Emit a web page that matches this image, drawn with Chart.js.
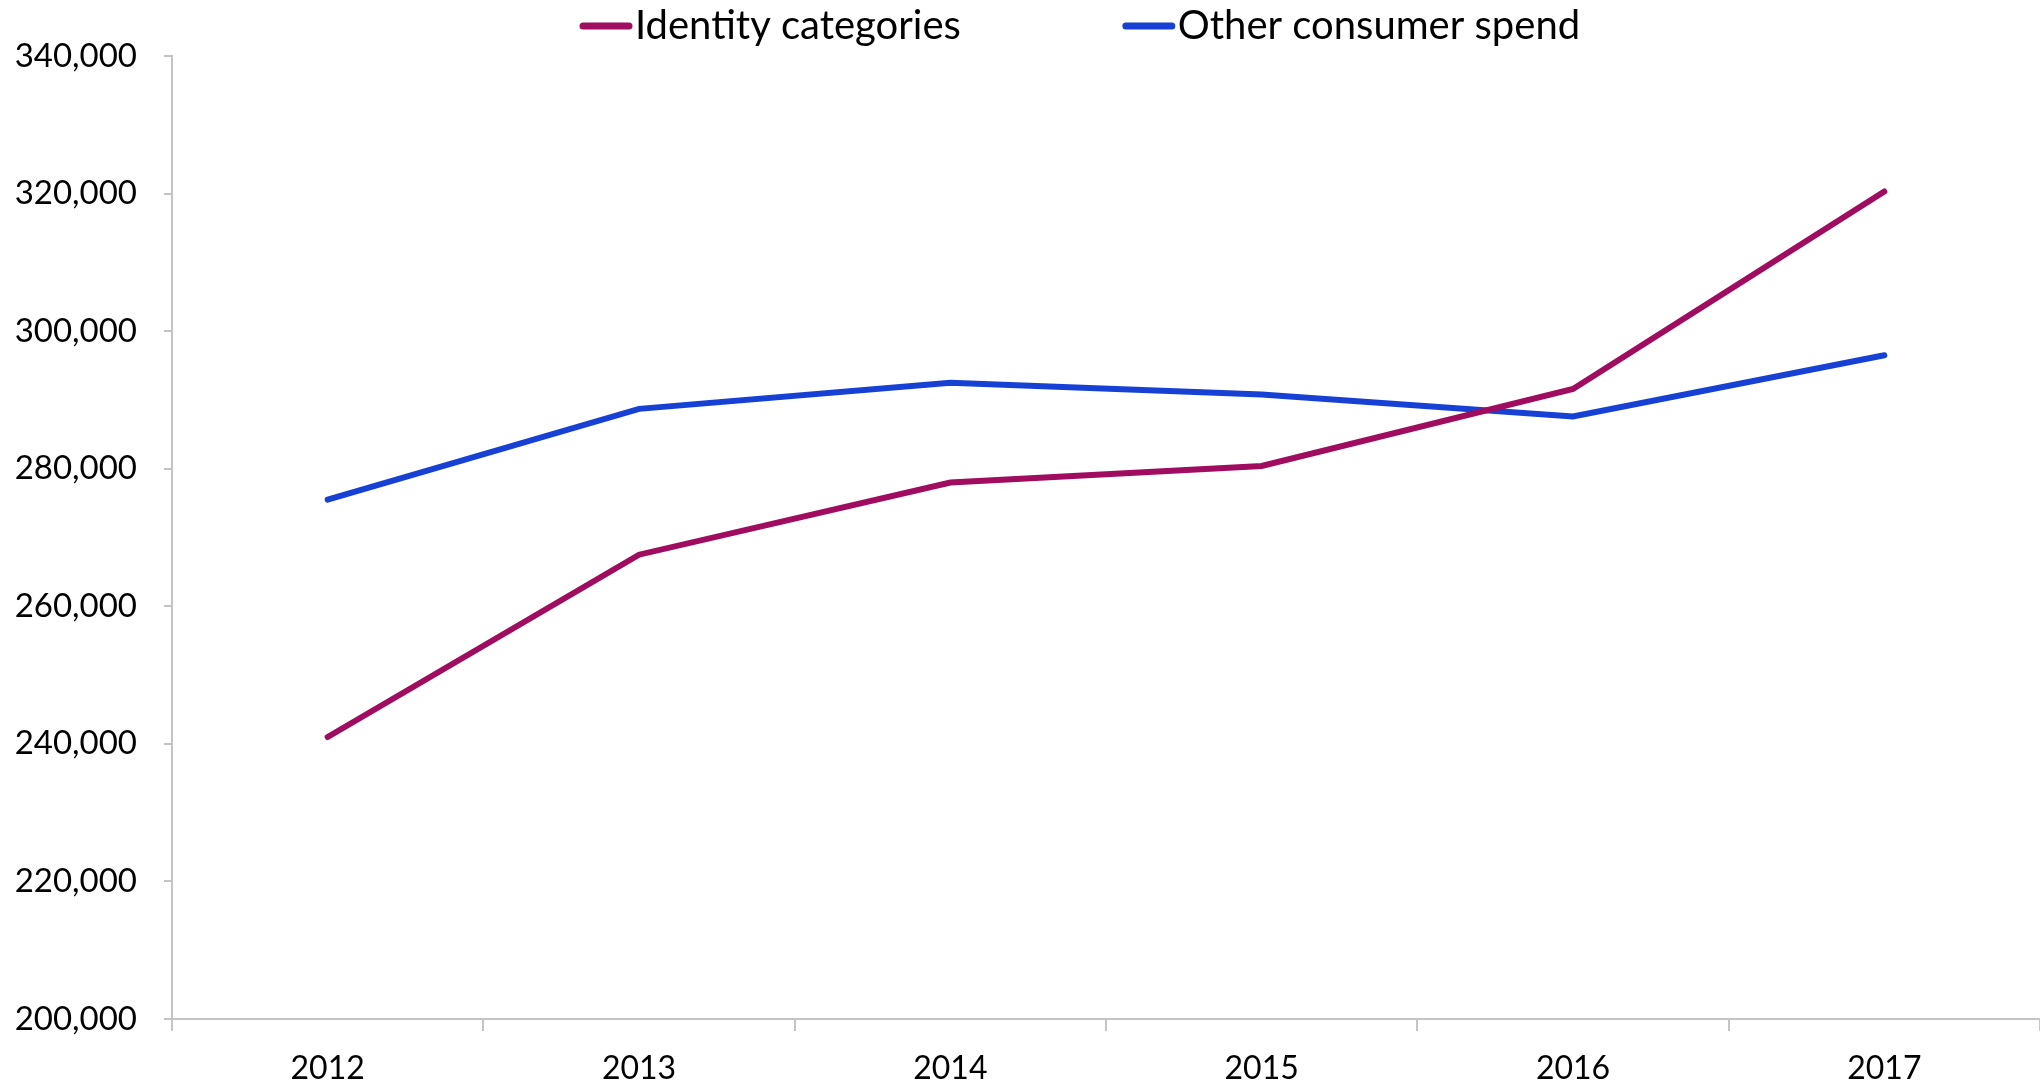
<!DOCTYPE html>
<html>
<head>
<meta charset="utf-8">
<script src="https://cdn.jsdelivr.net/npm/chart.js@4.4.1/dist/chart.umd.min.js"></script>
<style>
  html, body { margin: 0; padding: 0; background: #fff; }
  #wrap { width: 2040px; height: 1090px; }
</style>
</head>
<body>
<div id="wrap"><canvas id="myChart" width="2040" height="1090"></canvas></div>
<script>
const years = ["2012", "2013", "2014", "2015", "2016", "2017"];
const identitySpend = [241000, 267500, 278000, 280400, 291600, 320300];
const otherSpend = [275500, 288700, 292500, 290800, 287600, 296500];
const seriesNames = ["Identity categories", "Other consumer spend"];
const seriesColors = ["#a00c5f", "#1740d4"];

const axisGrey = "#c4c4c4";
const fontName = "Lato, 'Open Sans', sans-serif";

// legend drawn by hand: short thick line right next to the label
const lineLegend = {
  id: "lineLegend",
  afterDraw(chart) {
    const ctx = chart.ctx;
    let x = 579;
    const y = 26;
    ctx.save();
    ctx.font = "40px " + fontName;
    ctx.textBaseline = "middle";
    chart.data.datasets.forEach((ds) => {
      ctx.strokeStyle = ds.borderColor;
      ctx.lineWidth = 7;
      ctx.lineCap = "round";
      ctx.beginPath();
      ctx.moveTo(x + 4, y);
      ctx.lineTo(x + 50, y);
      ctx.stroke();
      ctx.fillStyle = "#000";
      ctx.fillText(ds.label, x + 56, y);
      x += 56 + ctx.measureText(ds.label).width + 161;
    });
    ctx.restore();
  }
};

const ctx = document.getElementById("myChart").getContext("2d");
const myChart = new Chart(ctx, {
  type: "line",
  data: {
    labels: years,
    datasets: [
      {
        label: seriesNames[0],
        data: identitySpend,
        borderColor: seriesColors[0],
        backgroundColor: seriesColors[0],
        borderWidth: 6,
        borderCapStyle: "round",
        pointRadius: 0,
        tension: 0
      },
      {
        label: seriesNames[1],
        data: otherSpend,
        borderColor: seriesColors[1],
        backgroundColor: seriesColors[1],
        borderWidth: 6,
        borderCapStyle: "round",
        pointRadius: 0,
        tension: 0
      }
    ]
  },
  options: {
    responsive: false,
    animation: false,
    layout: { padding: { top: 56, right: -5, bottom: 0, left: 0 } },
    plugins: {
      legend: { display: false },
      tooltip: { enabled: false }
    },
    scales: {
      x: {
        offset: true,
        grid: { offset: true, drawOnChartArea: false, tickLength: 12, color: axisGrey, lineWidth: 2 },
        border: { color: axisGrey, width: 2 },
        ticks: { color: "#000", padding: 18, font: { family: fontName, size: 32 } },
        afterFit(scale) { scale.height = 71; }
      },
      y: {
        min: 200000,
        max: 340000,
        grid: { drawOnChartArea: false, tickLength: 8, color: axisGrey, lineWidth: 2 },
        border: { color: axisGrey, width: 2 },
        ticks: {
          stepSize: 20000,
          color: "#000",
          padding: 27,
          font: { family: fontName, size: 33 },
          callback: (v) => v.toLocaleString("en-US")
        },
        afterFit(scale) { scale.width = 172; }
      }
    }
  },
  plugins: [lineLegend]
});
</script>
</body>
</html>
